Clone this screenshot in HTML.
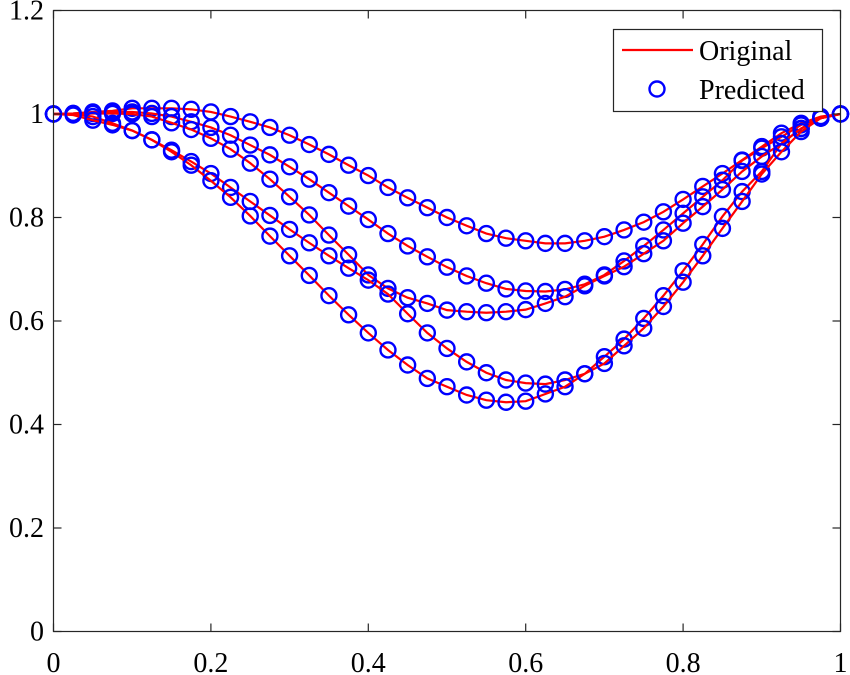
<!DOCTYPE html>
<html><head><meta charset="utf-8"><style>
html,body{margin:0;padding:0;background:#fff;}
svg{display:block;font-family:"Liberation Serif","Times New Roman",serif;}
svg text{font-family:"Liberation Serif","Times New Roman",serif;}
</style></head><body>
<svg id="chart" width="850" height="675" xmlns="http://www.w3.org/2000/svg">
<g id="plot"></g>
</svg>
<script>
const xTicks=[0,0.2,0.4,0.6,0.8,1];
const xTickLabels=["0","0.2","0.4","0.6","0.8","1"];
const yTicks=[0,0.2,0.4,0.6,0.8,1,1.2];
const yTickLabels=["0","0.2","0.4","0.6","0.8","1","1.2"];
const xValues=Array.from({length:41},(_,i)=>i*0.025);
const curve1=[1.000,1.001,1.004,1.006,1.011,1.011,1.011,1.009,1.004,0.995,0.985,0.974,0.959,0.941,0.922,0.901,0.881,0.858,0.838,0.819,0.800,0.784,0.769,0.760,0.755,0.750,0.750,0.755,0.763,0.776,0.791,0.811,0.835,0.860,0.885,0.911,0.937,0.963,0.982,0.995,1.000];
const curve2=[1.000,1.001,1.003,1.004,1.004,1.001,0.995,0.985,0.974,0.959,0.940,0.921,0.898,0.874,0.848,0.822,0.796,0.769,0.745,0.724,0.704,0.687,0.673,0.662,0.658,0.657,0.661,0.671,0.689,0.716,0.745,0.776,0.808,0.840,0.872,0.910,0.934,0.956,0.979,0.992,1.000];
const curve3=[1.000,1.000,1.001,1.001,1.000,0.995,0.983,0.970,0.953,0.932,0.905,0.874,0.840,0.805,0.766,0.728,0.689,0.663,0.645,0.634,0.621,0.618,0.616,0.618,0.622,0.634,0.647,0.668,0.687,0.705,0.730,0.755,0.789,0.821,0.854,0.889,0.918,0.943,0.972,0.992,1.000];
const curve4=[1.000,1.000,0.995,0.982,0.968,0.950,0.930,0.908,0.885,0.858,0.831,0.804,0.777,0.751,0.726,0.702,0.679,0.652,0.614,0.577,0.547,0.521,0.500,0.486,0.480,0.478,0.486,0.498,0.531,0.565,0.605,0.649,0.697,0.748,0.802,0.850,0.889,0.943,0.972,0.993,1.000];
const curve5=[1.000,0.998,0.988,0.979,0.968,0.950,0.927,0.901,0.871,0.839,0.803,0.764,0.726,0.688,0.649,0.612,0.577,0.544,0.515,0.489,0.473,0.457,0.447,0.443,0.445,0.459,0.473,0.498,0.518,0.552,0.586,0.628,0.675,0.726,0.779,0.831,0.884,0.927,0.966,0.992,1.000];
const seriesNames=["curve-1","curve-2","curve-3","curve-4","curve-5"];
const allSeries=[curve1,curve2,curve3,curve4,curve5];

const X0=53.5,X1=840.5,Y0=631.5,Y1=10.5;
const sx=v=>X0+(X1-X0)*v;
const sy=v=>Y0-(Y0-Y1)*(v/1.2);
const NS="http://www.w3.org/2000/svg";
const FONT='"Liberation Serif","Times New Roman",serif';
const g=document.getElementById('plot');
function mk(t,a,p){const e=document.createElementNS(NS,t);for(const k in a)e.setAttribute(k,a[k]);(p||g).appendChild(e);return e;}

allSeries.forEach((ser,si)=>{
  const sg=mk('g',{});
  
  
  const d=ser.map((v,i)=>(i?'L':'M')+sx(xValues[i]).toFixed(2)+' '+sy(v).toFixed(2)).join(' ');
  const ln=mk('path',{d:d,fill:'none',stroke:'#ff0000','stroke-width':2.2},sg);
  
  
  ser.forEach((v,i)=>{
    const c=mk('circle',{cx:sx(xValues[i]),cy:sy(v),r:7.5,fill:'none',stroke:'#0000ff','stroke-width':2.4},sg);
    
    
  });
});

const box=mk('rect',{x:X0,y:Y1,width:X1-X0,height:Y0-Y1,fill:'none',stroke:'#262626','stroke-width':1.2});



xTicks.forEach((t,i)=>{
  const x=sx(t);
  mk('line',{x1:x,y1:Y0,x2:x,y2:Y0-8,stroke:'#262626','stroke-width':1.2});
  mk('line',{x1:x,y1:Y1,x2:x,y2:Y1+8,stroke:'#262626','stroke-width':1.2});
  const tx=mk('text',{x:x,y:672,'text-anchor':'middle','font-size':28,fill:'#000','font-family':FONT});
  tx.textContent=xTickLabels[i];
  
  
});
yTicks.forEach((t,i)=>{
  const y=sy(t);
  mk('line',{x1:X0,y1:y,x2:X0+8,y2:y,stroke:'#262626','stroke-width':1.2});
  mk('line',{x1:X1,y1:y,x2:X1-8,y2:y,stroke:'#262626','stroke-width':1.2});
  const tx=mk('text',{x:44,y:y+9,'text-anchor':'end','font-size':28,fill:'#000','font-family':FONT});
  tx.textContent=yTickLabels[i];
  
  
});

const lg=mk('g',{});


mk('rect',{x:613.5,y:29.5,width:209,height:82,fill:'#fff',stroke:'#262626','stroke-width':1.2},lg);
mk('line',{x1:622,y1:50,x2:693,y2:50,stroke:'#ff0000','stroke-width':2.2},lg);
mk('circle',{cx:657,cy:89,r:7.5,fill:'none',stroke:'#0000ff','stroke-width':2.4},lg);
const t1=mk('text',{x:699,y:60,'font-size':28,fill:'#000','font-family':FONT},lg);
t1.textContent='Original';


const t2=mk('text',{x:699,y:99,'font-size':28,fill:'#000','font-family':FONT},lg);
t2.textContent='Predicted';


</script>
</body></html>
